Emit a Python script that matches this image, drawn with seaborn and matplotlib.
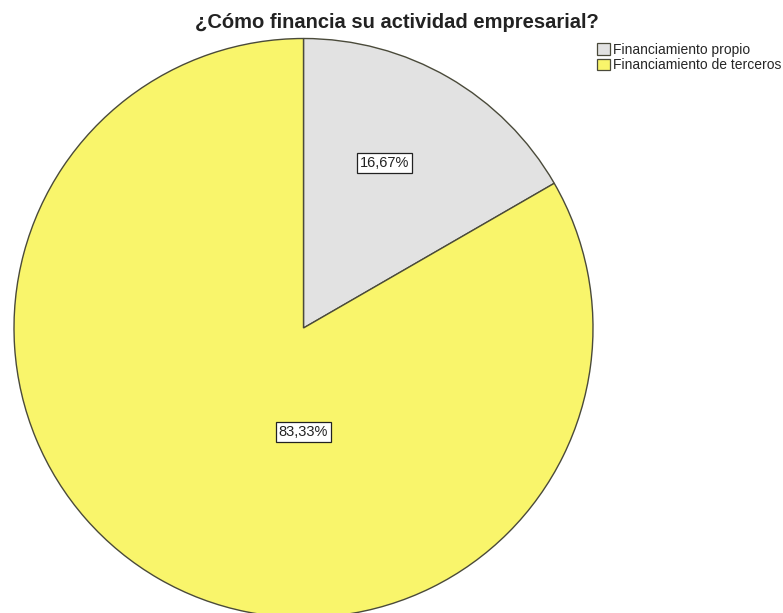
import matplotlib
matplotlib.use("Agg")
import matplotlib.pyplot as plt
import seaborn as sns
from matplotlib.patches import Patch

categories = ["Financiamiento propio", "Financiamiento de terceros"]
values = [16.67, 83.33]
pct_labels = ["16,67%", "83,33%"]
title = "¿Cómo financia su actividad empresarial?"

sns.set_theme(style="white")
plt.rcParams['font.family'] = ['Liberation Sans', 'DejaVu Sans']

colors = ["#e2e2e2", "#f9f56b"]
edge = "#4a4a3a"

fig = plt.figure(figsize=(7.83, 6.13), dpi=100)
W, H = 783, 613
cx, cy, r = 303.5, 328, 289.5
ax = fig.add_axes([(cx - r) / W, (H - cy - r) / H, 2 * r / W, 2 * r / H])

wedges, _ = ax.pie(values, colors=colors, startangle=90, counterclock=False,
                   wedgeprops=dict(edgecolor=edge, linewidth=1.0))
ax.set_aspect('auto')
ax.set_xlim(-1, 1)
ax.set_ylim(-1, 1)
ax.axis('off')

label_pos = [(0.280, 0.571), (0.0, -0.36)]
for lab, (x, y) in zip(pct_labels, label_pos):
    ax.text(x, y, lab, ha='center', va='center', fontsize=10.5, color='#222222',
            bbox=dict(boxstyle='square,pad=0.2', fc='white', ec='#222222', lw=0.9))

fig.text(397 / W, 1 - 22 / H, title, ha='center', va='center',
         fontsize=14.5, fontweight='bold', color='#222222')

handles = [Patch(facecolor=c, edgecolor=edge, linewidth=0.9) for c in colors]
fig.legend(handles, categories, loc='upper left', bbox_to_anchor=(597 / W, 1 - 43 / H),
           frameon=False, fontsize=10, handlelength=0.9, handleheight=0.9,
           borderpad=0, borderaxespad=0, labelspacing=0.1, handletextpad=0.25)

fig.savefig("out.png", dpi=100)
